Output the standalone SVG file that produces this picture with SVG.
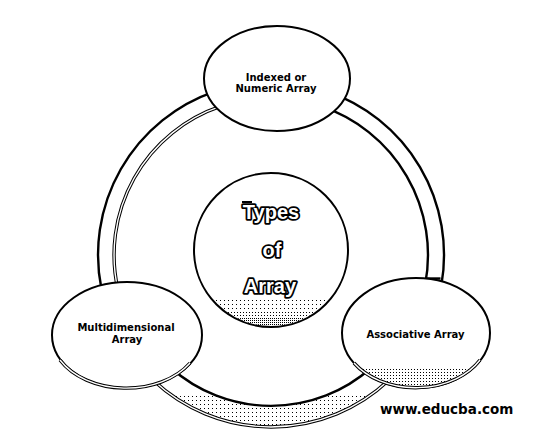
<svg xmlns="http://www.w3.org/2000/svg" xmlns:xlink="http://www.w3.org/1999/xlink" width="543" height="432" viewBox="0 0 543 432">
<style>
.node{fill:#fff;stroke:#000;stroke-width:2}
.thick{fill:none;stroke:#000;stroke-width:2.4}
.dblo{fill:none;stroke:#000;stroke-width:3.4}
.dbli{fill:none;stroke:#fff;stroke-width:1.4}
.lbl{font-family:"DejaVu Sans",Verdana,sans-serif;font-weight:bold;font-size:10px;fill:#000;text-anchor:middle}
.big{font-family:"Liberation Sans",Arial,sans-serif;font-weight:bold;font-size:20px;fill:#fff;stroke:#000;stroke-width:3.6;paint-order:stroke;stroke-linejoin:round;text-anchor:middle}
.wm{font-family:"DejaVu Sans",Verdana,sans-serif;font-weight:bold;font-size:13.5px;fill:#000}
</style>
<defs>
<pattern id="dSparse" width="4" height="4" patternUnits="userSpaceOnUse"><rect x="0" y="0" width="1" height="1" fill="#000"/></pattern>
<pattern id="dMed" width="3" height="3" patternUnits="userSpaceOnUse"><rect x="0" y="0" width="1" height="1" fill="#000"/></pattern>
<pattern id="dDense" width="2" height="2" patternUnits="userSpaceOnUse"><rect x="0" y="0" width="1" height="1" fill="#000"/></pattern>
<clipPath id="cCenter"><circle cx="271" cy="250" r="76"/></clipPath>
<clipPath id="cRight"><ellipse cx="416" cy="333" rx="73" ry="54"/></clipPath>
<clipPath id="cBand"><path d="M153,380.1 A172,172 0 0,0 389,380.1 L371,368 A151,151 0 0,1 171,368 Z"/></clipPath>
<path id="leftInner" d="M221,106.2 A157,157 0 0,0 118,290"/>
<path id="bottomOuter" d="M153,380.1 A172,172 0 0,0 389,380.1"/>
<path id="leftNodeBottom" d="M60,360 A75,53 0 0,0 190,363"/>
<path id="rightNodeBottom" d="M354,363 A74,55 0 0,0 480,360"/>
</defs>

<g id="connectors">
  <path class="thick" d="M215,91.3 A173,173 0 0,0 101.6,290"/>
  <use xlink:href="#leftInner" class="dblo"/>
  <use xlink:href="#leftInner" class="dbli"/>
  <path class="thick" d="M327,91.3 A173,173 0 0,1 441.4,285"/>
  <path class="thick" d="M321,106.2 A157,157 0 0,1 425.1,285"/>
  <path class="thick" d="M426.5,278.5 L440.5,278.5"/>
  <rect x="150" y="396" width="245" height="40" fill="url(#dSparse)" clip-path="url(#cBand)"/>
  <path class="thick" d="M171,368 A151,151 0 0,0 371,368"/>
  <use xlink:href="#bottomOuter" class="dblo"/>
  <use xlink:href="#bottomOuter" class="dbli"/>
</g>

<g id="node-indexed">
  <ellipse class="node" cx="277" cy="78.5" rx="73" ry="52.5"/>
  <text class="lbl" x="276" y="80.5">Indexed or</text>
  <text class="lbl" x="276" y="92">Numeric Array</text>
</g>

<g id="node-multi">
  <ellipse class="node" cx="127" cy="335" rx="75" ry="53"/>
  <use xlink:href="#leftNodeBottom" class="dblo"/>
  <use xlink:href="#leftNodeBottom" class="dbli"/>
  <text class="lbl" x="126" y="331">Multidimensional</text>
  <text class="lbl" x="127" y="342.5">Array</text>
</g>

<g id="node-assoc">
  <ellipse class="node" cx="416" cy="333" rx="74" ry="55"/>
  <rect x="340" y="368" width="150" height="22" fill="url(#dMed)" clip-path="url(#cRight)"/>
  <use xlink:href="#rightNodeBottom" class="dblo"/>
  <use xlink:href="#rightNodeBottom" class="dbli"/>
  <text class="lbl" x="415.5" y="337.5">Associative Array</text>
</g>

<g id="node-center">
  <circle class="node" cx="271" cy="250" r="77"/>
  <g clip-path="url(#cCenter)">
    <rect x="190" y="298" width="165" height="12" fill="url(#dSparse)"/>
    <rect x="190" y="310" width="165" height="8" fill="url(#dMed)"/>
    <rect x="190" y="318" width="165" height="12" fill="url(#dDense)"/>
  </g>
  <rect x="242" y="201" width="10" height="2" fill="#000"/>
  <text class="big" x="271" y="219">Types</text>
  <text class="big" x="272" y="257">of</text>
  <text class="big" x="270" y="293">Array</text>
</g>

<text class="wm" x="380" y="413.5">www.educba.com</text>
</svg>
